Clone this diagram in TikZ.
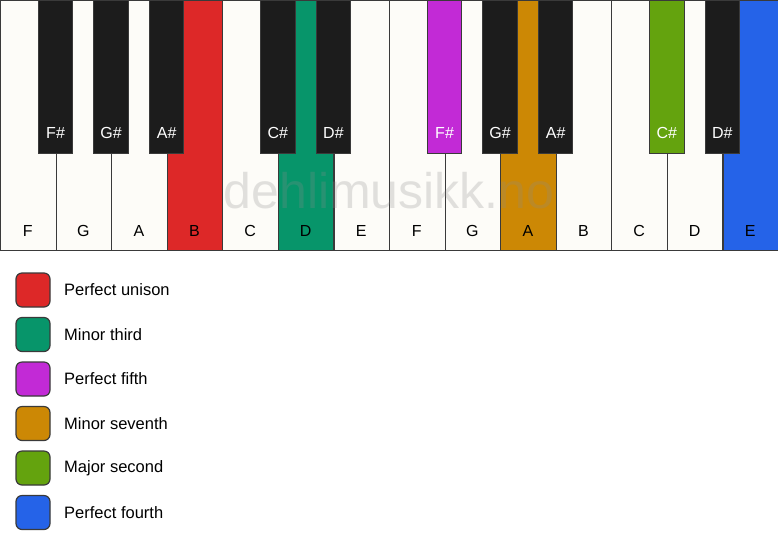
\documentclass[tikz,border=0pt]{standalone}
\usepackage{fontspec}
\setmainfont{Liberation Sans}
\definecolor{keywhite}{HTML}{FDFCF8}
\definecolor{keyblack}{HTML}{1C1C1C}
\definecolor{keyline}{HTML}{3A3A3A}
\definecolor{cred}{HTML}{DD2828}
\definecolor{cgreen}{HTML}{07956A}
\definecolor{cpurple}{HTML}{C22AD6}
\definecolor{corange}{HTML}{CC8805}
\definecolor{clime}{HTML}{64A30E}
\definecolor{cblue}{HTML}{2563E8}
\tikzset{
  whitekey/.style={draw=keyline, line width=1.2pt, fill=#1, minimum width=55.57pt, minimum height=250pt, anchor=north west, inner sep=0pt},
  blackkey/.style={draw=keyline, line width=1pt, fill=#1, minimum width=34.5pt, minimum height=153pt, anchor=north, inner sep=0pt},
  wlabel/.style={font=\fontsize{16}{16}\selectfont, text=black},
  blabel/.style={font=\fontsize{16}{16}\selectfont, text=white},
  legbox/.style={draw=keyline, line width=1.2pt, fill=#1, rounded corners=6pt, minimum width=34pt, minimum height=34pt, inner sep=0pt},
  legtext/.style={font=\fontsize{16.5}{16.5}\selectfont, anchor=west, inner sep=0pt},
}
\begin{document}
\begin{tikzpicture}[x=1pt,y=-1pt]
\useasboundingbox (0,0) rectangle (778,550);
\fill[white] (0,0) rectangle (778,550);
% white keys
\foreach \i/\n/\c in {0/F/keywhite,1/G/keywhite,2/A/keywhite,3/B/cred,4/C/keywhite,5/D/cgreen,6/E/keywhite,7/F/keywhite,8/G/keywhite,9/A/corange,10/B/keywhite,11/C/keywhite,12/D/keywhite,13/E/cblue}{
  \node[whitekey=\c] (w\i) at (\i*55.57,0) {};
  \node[wlabel] (wl\i) at (\i*55.57+27.78,231) {\n};
}
% black keys
\foreach \i/\n/\c in {1/F\#/keyblack,2/G\#/keyblack,3/A\#/keyblack,5/C\#/keyblack,6/D\#/keyblack,8/F\#/cpurple,9/G\#/keyblack,10/A\#/keyblack,12/C\#/clime,13/D\#/keyblack}{
  \node[blackkey=\c] (b\i) at (\i*55.57,0) {};
  \node[blabel] (bl\i) at (\i*55.57,133) {\n};
}
% watermark
\node[font=\fontsize{50}{50}\selectfont, text=black!45, opacity=0.25] (wm) at (389,191) {dehlimusikk.no};
% legend
\foreach \k/\c/\t/\y in {1/cred/Perfect unison/290,2/cgreen/Minor third/334.5,3/cpurple/Perfect fifth/379,4/corange/Minor seventh/423.5,5/clime/Major second/468,6/cblue/Perfect fourth/512.5}{
  \node[legbox=\c] (lb\k) at (33,\y) {};
  \node[legtext] (lt\k) at (64,\y) {\t};
}
\end{tikzpicture}
\end{document}
